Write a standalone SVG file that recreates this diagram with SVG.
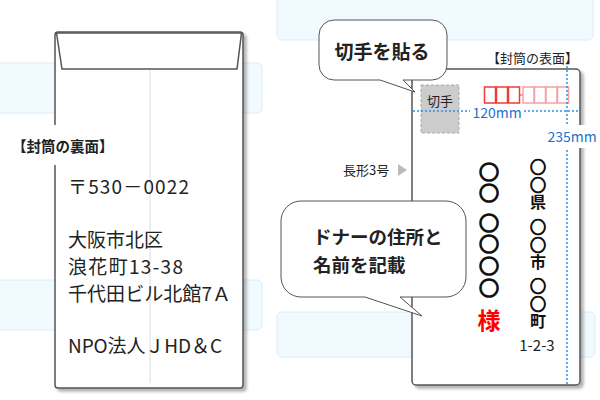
<svg xmlns="http://www.w3.org/2000/svg" width="600" height="400" viewBox="0 0 600 400">
<defs>
<filter id="sh" x="-10%" y="-10%" width="130%" height="130%">
<feDropShadow dx="3" dy="3" stdDeviation="1.5" flood-color="#000" flood-opacity="0.3"/>
</filter>
<style>
.band{fill:#f1fbff;stroke:#dcebfa;stroke-width:1}
.env{fill:#fff;stroke:#555;stroke-width:1.5}
.t{font-family:"Noto Sans CJK JP","Noto Sans",sans-serif;fill:#222}
.b{font-weight:bold}
.v{writing-mode:vertical-rl;font-family:"Noto Sans CJK JP",sans-serif;font-weight:bold;fill:#111}
.c{stroke:#111;stroke-width:1.6}
.c2{stroke:#111;stroke-width:1.2}
.bub{fill:#fff;stroke:#555;stroke-width:1}
.dot{stroke:#2a8ef0;stroke-width:1.5;stroke-dasharray:2,2;fill:none}
.blue{fill:#1f6fd0}
.zipR{fill:none;stroke:#f23a3a;stroke-width:1.5}
.zipP{fill:none;stroke:#f7a0a6;stroke-width:1.5}
</style>
</defs>
<g id="background">
<rect class="band" x="-10" y="63" width="272" height="50" rx="5"/>
<rect class="band" x="277" y="-10" width="316" height="50" rx="5"/>
<rect class="band" x="-10" y="280" width="272" height="50" rx="5"/>
<rect class="band" x="277" y="312" width="318" height="45" rx="5"/>
</g>
<g id="back-envelope">
<rect class="env" x="55" y="32" width="188" height="356" rx="3" filter="url(#sh)"/>
<polygon points="56.5,33 62,69 237,69 241.5,33" fill="#fff" stroke="#555" stroke-width="1.5"/>
<line x1="150" y1="70" x2="150" y2="383" stroke="#ddd" stroke-width="1"/>
<rect x="9" y="125" width="104" height="40" fill="#fff"/>
<text class="t b" x="12" y="152" font-size="14.5">【封筒の裏面】</text>
<text class="t" x="68" y="194" font-size="19" textLength="121" lengthAdjust="spacing">〒530－0022</text>
<text class="t" x="68" y="247" font-size="19">大阪市北区</text>
<text class="t" x="68" y="274" font-size="19" textLength="115" lengthAdjust="spacing">浪花町13-38</text>
<text class="t" x="68" y="301" font-size="19" textLength="163" lengthAdjust="spacing">千代田ビル北館7Ａ</text>
<text class="t" x="68" y="353" font-size="19" textLength="154" lengthAdjust="spacing">NPO法人ＪHD＆C</text>
</g>
<g id="front-envelope">
<rect class="env" x="412" y="69" width="168" height="316" rx="4" filter="url(#sh)"/>
<text class="t" x="487" y="63" font-size="13">【封筒の表面】</text>
<rect x="421" y="85" width="38" height="48" fill="#ccc" stroke="#aaa" stroke-width="1" stroke-dasharray="3,2"/>
<text class="t" x="440" y="106" font-size="13" text-anchor="middle">切手</text>
<rect class="zipR" x="484.5" y="87" width="11" height="16"/>
<rect class="zipR" x="496.5" y="87" width="11" height="16"/>
<rect class="zipR" x="508.5" y="87" width="11" height="16"/>
<line x1="519.5" y1="95" x2="523" y2="95" stroke="#f23a3a" stroke-width="1"/>
<rect class="zipP" x="523" y="87" width="11" height="16"/>
<rect class="zipP" x="534.5" y="87" width="11" height="16"/>
<rect class="zipP" x="546" y="87" width="11" height="16"/>
<rect class="zipP" x="557.5" y="87" width="11" height="16"/>
<text class="v c" x="489" y="162" font-size="20" letter-spacing="1">○○</text>
<text class="v c" x="489" y="213" font-size="20" letter-spacing="1.7">○○○○</text>
<text class="v" x="489" y="309" font-size="23" style="fill:#f00">様</text>
<text class="v" x="538" y="159" font-size="16" letter-spacing="1.5"><tspan class="c2">○○</tspan>県</text>
<text class="v" x="538" y="219" font-size="16" letter-spacing="1.5"><tspan class="c2">○○</tspan>市</text>
<text class="v" x="538" y="278" font-size="16" letter-spacing="1.5"><tspan class="c2">○○</tspan>町</text>
<text class="t" x="537" y="351" font-size="15" text-anchor="middle">1-2-3</text>
</g>
<g id="dimensions">
<line class="dot" x1="413" y1="111" x2="470" y2="111"/>
<line class="dot" x1="524" y1="111" x2="580" y2="111"/>
<text class="t blue" x="497" y="118" font-size="14" text-anchor="middle" style="fill:#1f6fd0">120mm</text>
<line class="dot" x1="567" y1="66" x2="567" y2="384"/>
<rect x="545" y="125" width="55" height="23" fill="#fff"/>
<text class="t blue" x="572" y="142" font-size="14" text-anchor="middle" style="fill:#1f6fd0">235mm</text>
</g>
<g id="size-label">
<text class="t" x="343" y="175" font-size="13">長形3号</text>
<polygon points="398,164 407,170 398,176" fill="#bbb"/>
</g>
<g id="bubble-stamp">
<path class="bub" d="M334,20 H432 A15,15 0 0 1 447,35 V65 A15,15 0 0 1 432,80 H403 L415,92 L380,80 H334 A15,15 0 0 1 319,65 V35 A15,15 0 0 1 334,20 Z"/>
<text class="t b" x="382" y="59" font-size="19" text-anchor="middle">切手を貼る</text>
</g>
<g id="bubble-address">
<path class="bub" d="M301,201 H446 A20,20 0 0 1 466,221 V277 A20,20 0 0 1 446,297 H400 L422,316 L365,297 H301 A20,20 0 0 1 281,277 V221 A20,20 0 0 1 301,201 Z"/>
<text class="t b" x="313" y="244" font-size="18.5">ドナーの住所と</text>
<text class="t b" x="313" y="272" font-size="18.5">名前を記載</text>
</g>
</svg>
